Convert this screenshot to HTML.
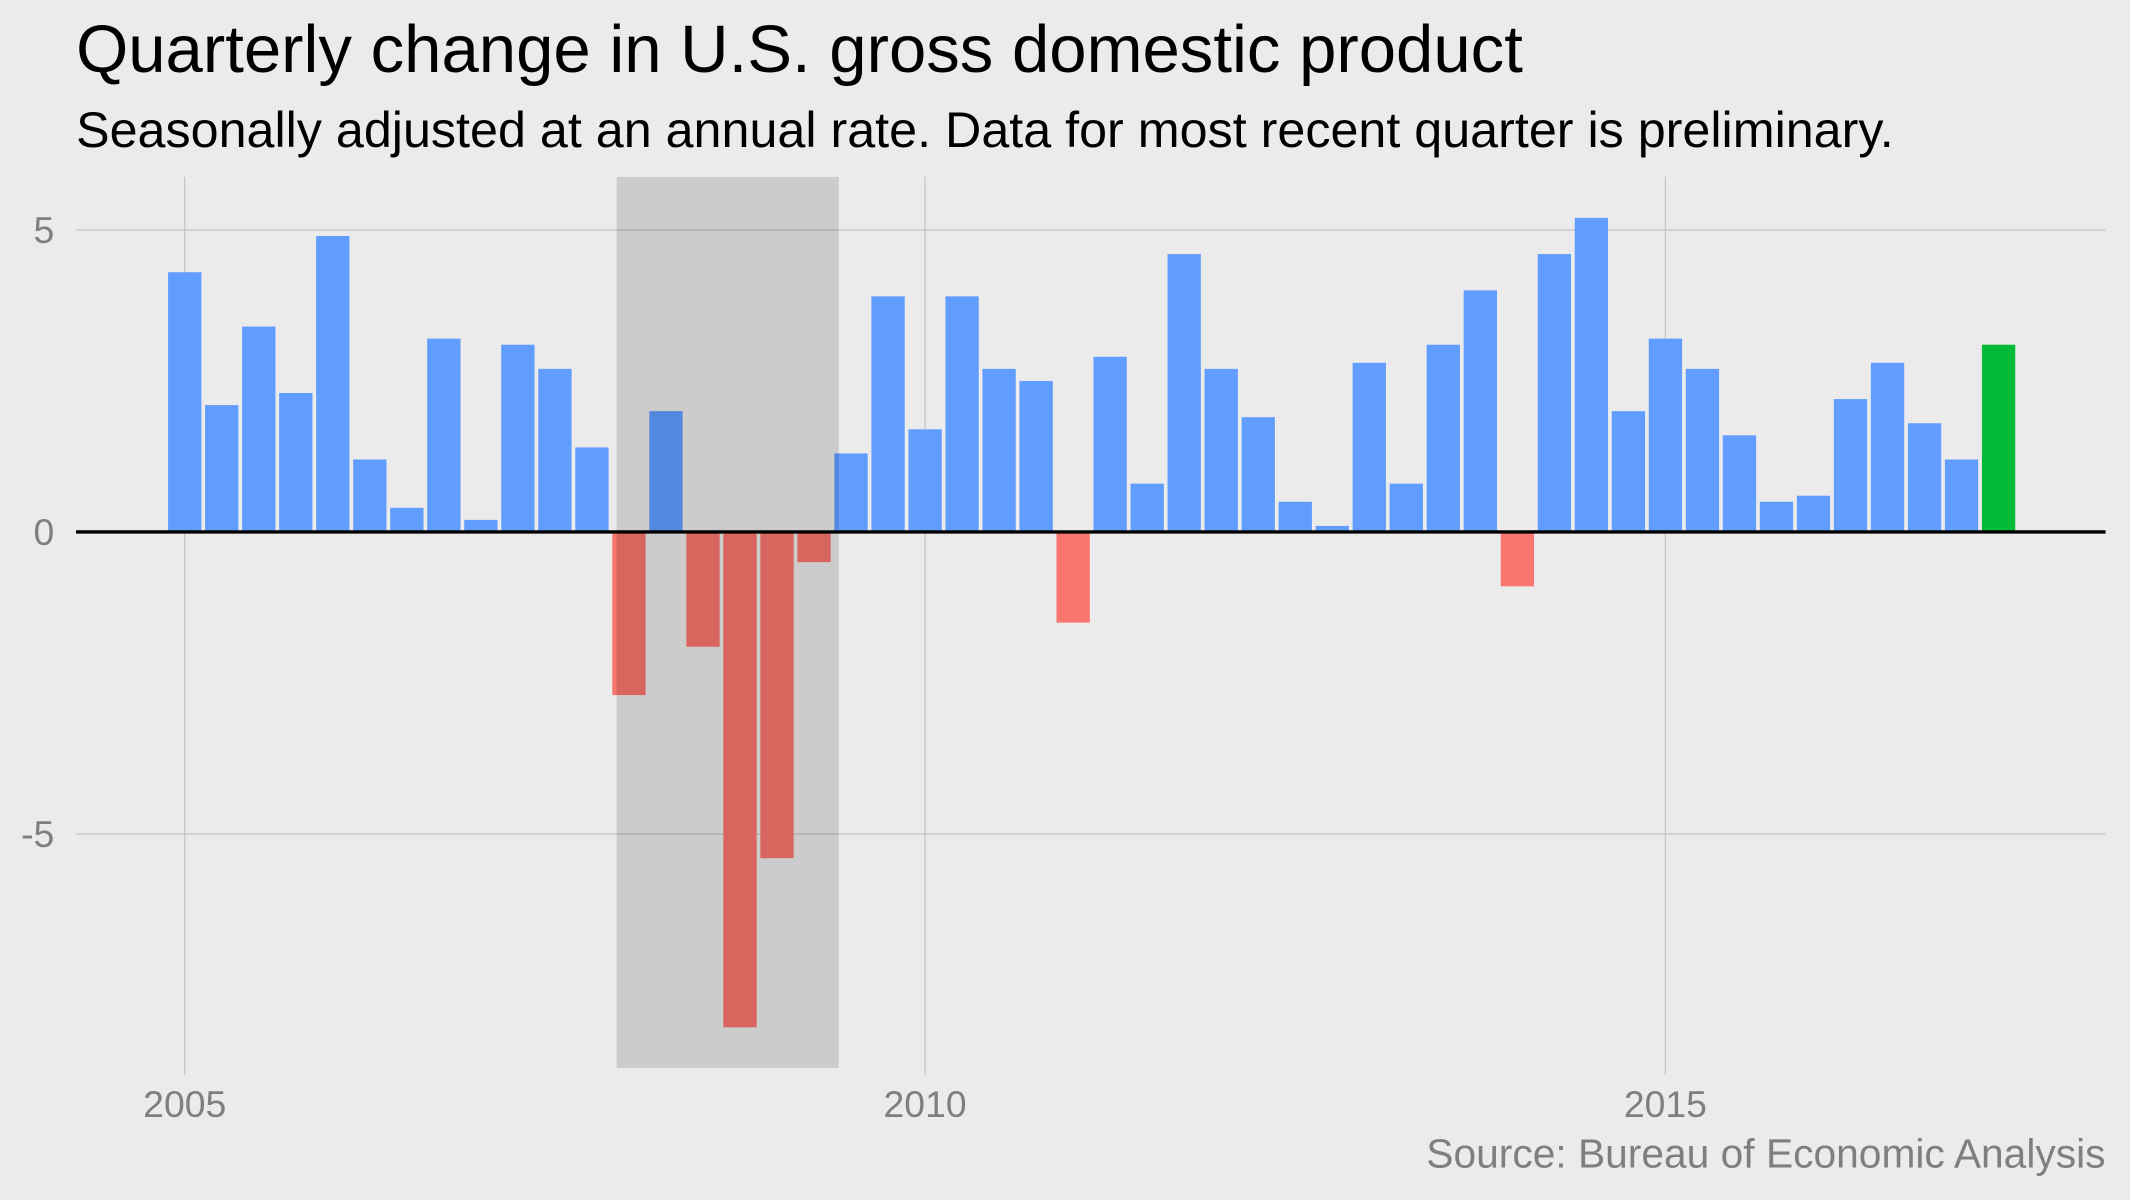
<!DOCTYPE html>
<html><head><meta charset="utf-8"><style>
html,body{margin:0;padding:0;background:#EBEBEB;}
svg{display:block;font-family:"Liberation Sans",Arial,sans-serif;}
</style></head><body>
<svg id="chart" width="2130" height="1200" viewBox="0 0 1568 882" preserveAspectRatio="none" xmlns="http://www.w3.org/2000/svg">
<rect x="0" y="0" width="1568" height="882" fill="#EBEBEB"/>
<text x="56" y="53" font-size="49.4" fill="#000">Quarterly change in U.S. gross domestic product</text>
<text x="56" y="108" font-size="37" fill="#000">Seasonally adjusted at an annual rate. Data for most recent quarter is preliminary.</text>
<g id="grid"></g>
<g id="bars"></g>
<g id="shade"></g>
<g id="axes"></g>
<text x="1550" y="858" font-size="30" fill="#7F7F7F" text-anchor="end">Source: Bureau of Economic Analysis</text>
</svg>
<script>
const startYear = 2005;
const gdpValues = [4.3,2.1,3.4,2.3, 4.9,1.2,0.4,3.2, 0.2,3.1,2.7,1.4, -2.7,2.0,-1.9,-8.2, -5.4,-0.5,1.3,3.9, 1.7,3.9,2.7,2.5, -1.5,2.9,0.8,4.6, 2.7,1.9,0.5,0.1, 2.8,0.8,3.1,4.0, -0.9,4.6,5.2,2.0, 3.2,2.7,1.6,0.5, 0.6,2.2,2.8,1.8, 1.2,3.1];
const yTicks = [5,0,-5];
const yTickLabels = ["5","0","-5"];
const xTicks = [2005,2010,2015];
const xTickLabels = ["2005","2010","2015"];
const recession = [2007.917, 2009.417];

const NS="http://www.w3.org/2000/svg";
const px0=56, px1=1550, py0=130, py1=785;
function xScale(t){return 136 + (t-2005)*109;}
function yScale(v){return 391 - v*44.4;}
function mk(tag,attrs,parent){const e=document.createElementNS(NS,tag);for(const k in attrs)e.setAttribute(k,attrs[k]);parent.appendChild(e);return e;}
const grid=document.getElementById('grid'), bars=document.getElementById('bars'), shade=document.getElementById('shade'), axes=document.getElementById('axes');

yTicks.forEach((v,i)=>{
  const l=mk('line',{x1:px0,x2:px1,y1:yScale(v),y2:yScale(v),stroke:'#C8C8C8','stroke-width':1},grid);
  
  
  const t=mk('text',{x:40,y:yScale(v)+9.5,'font-size':27.5,fill:'#7F7F7F','text-anchor':'end'},axes);
  t.textContent=yTickLabels[i];
  
  
});
xTicks.forEach((v,i)=>{
  const l=mk('line',{x1:xScale(v),x2:xScale(v),y1:py0,y2:py1+5,stroke:'#C8C8C8','stroke-width':1},grid);
  
  
  const t=mk('text',{x:xScale(v),y:821,'font-size':27.5,fill:'#7F7F7F','text-anchor':'middle'},axes);
  t.textContent=xTickLabels[i];
  
  
});
const bw=109/4*0.9;
gdpValues.forEach((v,i)=>{
  const t=startYear+i/4;
  const last=i===gdpValues.length-1;
  const col=last?'#00BA38':(v<0?'#F8766D':'#619CFF');
  const y=Math.min(yScale(v),yScale(0)), h=Math.abs(yScale(v)-yScale(0));
  const r=mk('rect',{x:xScale(t)-bw/2,y:y,width:bw,height:h,fill:col},bars);
  
  
});
const s=mk('rect',{x:xScale(recession[0]),y:py0,width:xScale(recession[1])-xScale(recession[0]),height:py1-py0,fill:'#000','fill-opacity':0.13},shade);


const z=mk('line',{x1:px0,x2:px1,y1:yScale(0),y2:yScale(0),stroke:'#000','stroke-width':2.5},axes);


</script>
</body></html>
